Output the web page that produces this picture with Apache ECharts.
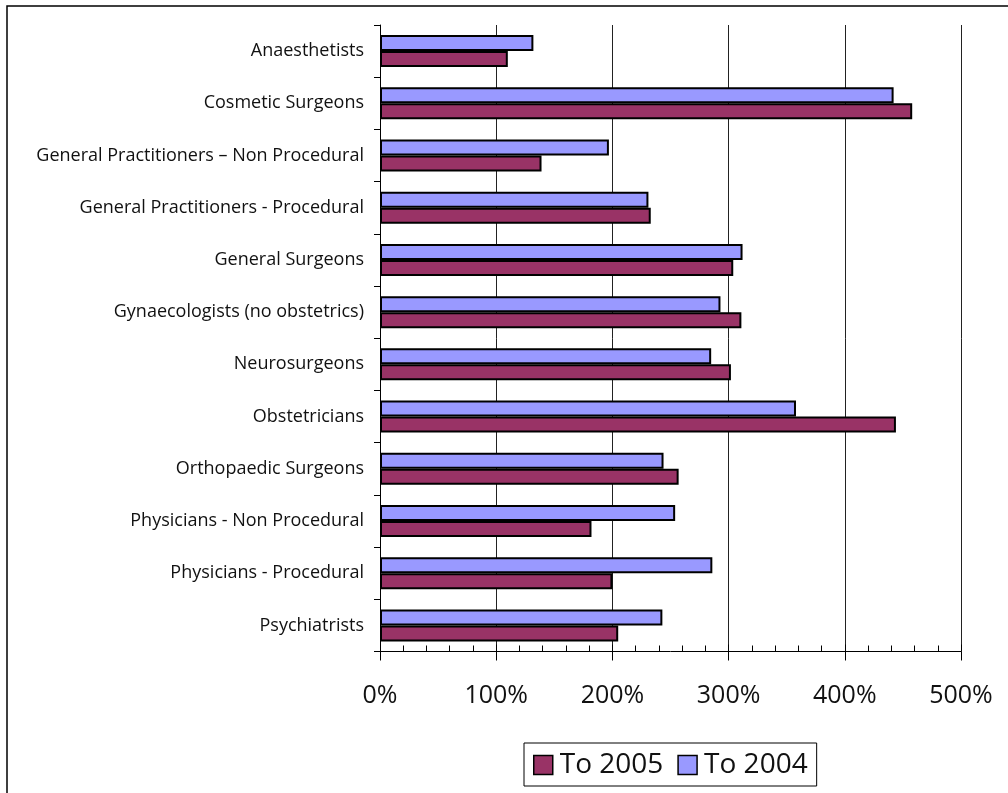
<!DOCTYPE html>
<html>
<head>
<meta charset="utf-8">
<style>
  html, body { margin: 0; padding: 0; background: #fff; }
  #chart { width: 1008px; height: 793px; }
</style>
<script src="https://cdn.jsdelivr.net/npm/echarts@6/dist/echarts.min.js"></script>
</head>
<body>
<div id="chart"></div>
<script>
// Specialty groups, listed top to bottom
const categories = [
  'Anaesthetists',
  'Cosmetic Surgeons',
  'General Practitioners \u2013 Non Procedural',
  'General Practitioners - Procedural',
  'General Surgeons',
  'Gynaecologists (no obstetrics)',
  'Neurosurgeons',
  'Obstetricians',
  'Orthopaedic Surgeons',
  'Physicians - Non Procedural',
  'Physicians - Procedural',
  'Psychiatrists'
];

// Percentage increase (%) per specialty
const to2004 = [132, 442, 197, 231, 312, 293, 285, 358, 244, 254, 286, 243];
const to2005 = [110, 458, 139, 233, 304, 311, 302, 444, 257, 182, 200, 205];

const xTicks = [0, 100, 200, 300, 400, 500];

const FONT = '"Open Sans", Lato, sans-serif';
const INK = '#111';

const chart = echarts.init(document.getElementById('chart'), null, { renderer: 'canvas' });

const barStyle = (color) => ({ color: color, borderColor: '#000', borderWidth: 2 });

chart.setOption({
  animation: false,
  backgroundColor: '#fff',
  graphic: [{
    type: 'rect',
    shape: { x: 7, y: 6, width: 1100, height: 900 },
    style: { fill: 'none', stroke: '#000', lineWidth: 1.5 },
    silent: true,
    z: 100
  }],
  grid: { left: 380, top: 25, right: 47, bottom: 141.5, containLabel: false },
  legend: {
    data: ['To 2005', 'To 2004'],
    left: 524,
    top: 743,
    orient: 'horizontal',
    icon: 'rect',
    itemWidth: 19,
    itemHeight: 19,
    itemGap: 14,
    padding: [8, 9, 7, 9],
    borderColor: '#000',
    borderWidth: 1,
    itemStyle: { borderColor: '#000', borderWidth: 1.5 },
    textStyle: { fontFamily: FONT, fontSize: 28, color: INK, padding: [0, 0, 0, 2] }
  },
  xAxis: [{
    type: 'value',
    min: xTicks[0],
    max: xTicks[xTicks.length - 1],
    interval: 100,
    position: 'bottom',
    axisLine: { show: true, lineStyle: { color: '#000', width: 1 } },
    axisTick: { show: true, inside: false, length: 9, lineStyle: { color: '#000' } },
    axisLabel: {
      fontFamily: FONT, fontSize: 25, color: INK, margin: 32,
      formatter: (v) => v + '%'
    },
    splitLine: { show: true, lineStyle: { color: '#222', width: 1 } }
  }, {
    type: 'value',
    min: xTicks[0],
    max: xTicks[xTicks.length - 1],
    interval: 100,
    position: 'bottom',
    axisLine: { show: false },
    axisTick: { show: true, inside: true, length: 7, lineStyle: { color: '#000' } },
    minorTick: { show: true, splitNumber: 5, length: 6, lineStyle: { color: '#000' } },
    axisLabel: { show: false },
    splitLine: { show: false }
  }],
  yAxis: {
    type: 'category',
    data: categories,
    inverse: true,
    axisLine: { show: true, lineStyle: { color: '#000', width: 1 } },
    axisTick: { show: true, inside: false, length: 6, lineStyle: { color: '#000' } },
    axisLabel: { fontFamily: FONT, fontSize: 18, color: INK, margin: 16 },
    splitLine: { show: false }
  },
  series: [{
    name: 'To 2004',
    type: 'bar',
    xAxisIndex: 0,
    data: to2004,
    barWidth: 16,
    barGap: '0%',
    itemStyle: barStyle('#9999ff')
  }, {
    name: 'To 2005',
    type: 'bar',
    xAxisIndex: 0,
    data: to2005,
    barWidth: 16,
    barGap: '0%',
    itemStyle: barStyle('#993366')
  }]
});
</script>
</body>
</html>
